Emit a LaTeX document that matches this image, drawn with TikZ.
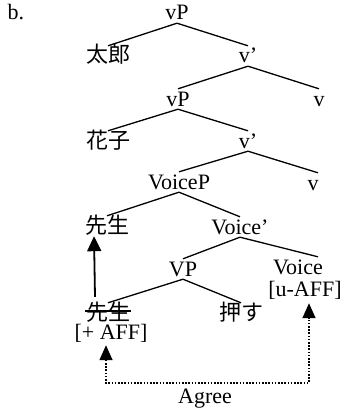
\documentclass[tikz,border=0pt]{standalone}
\usepackage{fontspec}
\setmainfont{Liberation Serif}
\newfontfamily\cjk{Noto Sans CJK JP}
\usetikzlibrary{arrows.meta}
\begin{document}
\begin{tikzpicture}[x=1pt,y=-1pt,
  every node/.style={font=\fontsize{22}{26}\selectfont},
  lab/.style={anchor=base,inner sep=1pt,text height=16pt,text depth=2pt},
  feat/.style={anchor=base,inner sep=1pt,text height=14pt,text depth=5pt},
  edge/.style={line width=1.3pt},
  move/.style={line width=1.8pt,-{Triangle[width=14pt,length=15pt]}},
  agreeline/.style={line width=1.5pt,dash pattern=on 1.6pt off 1.6pt,
    {Triangle[width=13pt,length=15pt]}-{Triangle[width=13pt,length=15pt]}}]
\useasboundingbox (0,0) rectangle (349,412);
\node[lab] (b) at (16,20) {b.};
\node[lab] (vP1) at (177,20) {vP};
\node[lab] (taro) at (108,63) {\cjk 太郎};
\node[lab] (v1) at (248,63) {v’};
\node[lab] (vP2) at (178,106) {vP};
\node[lab] (v2) at (319,106) {v};
\node[lab] (hanako) at (108,148) {\cjk 花子};
\node[lab] (v3) at (248,148) {v’};
\node[lab] (voiceP) at (179,189) {VoiceP};
\node[lab] (v4) at (313,190) {v};
\node[lab] (sen1) at (107,233) {\cjk 先生};
\node[lab] (voice1) at (240,234) {Voice’};
\node[lab] (VP) at (183,276) {VP};
\node[lab] (voice2) at (298,274) {Voice};
\node[feat] (uaff) at (305,296) {[u-AFF]};
\node[lab] (sen2) at (108,320) {\cjk 先生};
\node[lab] (osu) at (241,320) {\cjk 押す};
\node[feat] (aff) at (111,339) {[+ AFF]};
\node[lab] (agree) at (205,403) {Agree};
\coordinate (agL) at (106,383);
\coordinate (agR) at (309,383);
% tree edges
\draw[edge] (vP1.south) -- (taro.north);
\draw[edge] (vP1.south) -- (v1.north);
\draw[edge] (v1.south) -- (vP2.north);
\draw[edge] (v1.south) -- (v2.north);
\draw[edge] (vP2.south) -- (hanako.north);
\draw[edge] (vP2.south) -- (v3.north);
\draw[edge] (v3.south) -- (voiceP.north);
\draw[edge] (v3.south) -- ([xshift=5pt]v4.north);
\draw[edge] (voiceP.south) -- (sen1.north);
\draw[edge] (voiceP.south) -- (voice1.north);
\draw[edge] (voice1.south) -- (VP.north);
\draw[edge] (voice1.south) -- ([xshift=20pt]voice2.north);
\draw[edge] (VP.south) -- (sen2.north);
\draw[edge] (VP.south) -- (osu.north);
% strike-through
\draw[line width=1.2pt] ([yshift=2pt]sen2.west) -- ([yshift=2pt]sen2.east);
% movement arrow
\draw[move] ([xshift=-13pt,yshift=6pt]sen2.north) -- ([xshift=-13pt]sen1.south);
% agree
\draw[agreeline,shorten >=1pt] (agL |- aff.south) -- (agL) -- (agR) -- (agR |- uaff.south);
\end{tikzpicture}
\end{document}
